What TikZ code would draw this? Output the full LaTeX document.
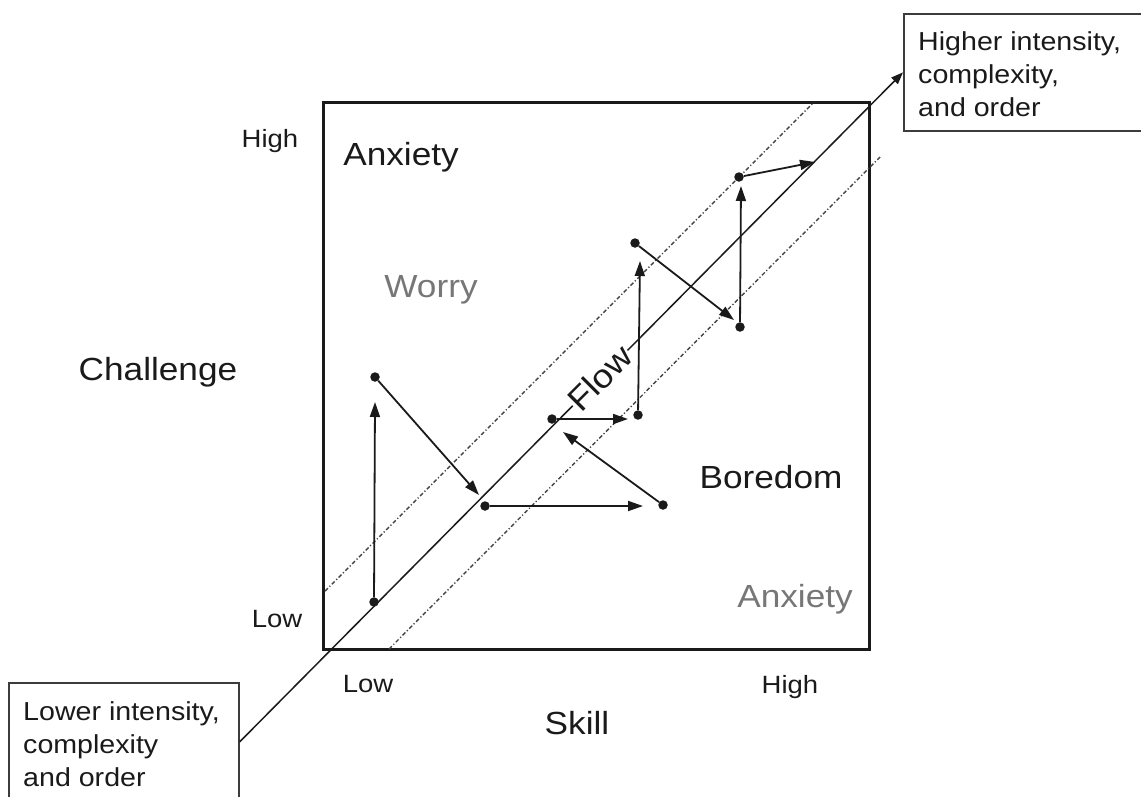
\documentclass[tikz,border=0pt]{standalone}
\usepackage{fontspec}
\setmainfont{Liberation Sans}[FakeStretch=1.1]
\usetikzlibrary{arrows.meta}
\definecolor{ink}{HTML}{1A1A1A}
\definecolor{soft}{HTML}{777777}
\definecolor{dashc}{HTML}{444444}
\begin{document}
\begin{tikzpicture}[x=1pt,y=-1pt,
  bigtxt/.style={font=\fontsize{32}{38}\selectfont, text=ink, inner sep=0pt, anchor=base},
  graytxt/.style={bigtxt, text=soft},
  smalltxt/.style={font=\fontsize{25}{30}\selectfont, text=ink, inner sep=0pt, anchor=base},
  boxtxt/.style={font=\fontsize{26}{33}\selectfont, text=ink, inner sep=0pt, align=left, anchor=north west},
  labelbox/.style={draw=ink!85, line width=1.7pt, rectangle, inner sep=0pt},
  dot/.style={circle, fill=ink, inner sep=0pt, minimum size=9.5pt},
  arr/.style={draw=ink, line width=1.8pt, -{Triangle[length=15pt,width=10pt]}},
  diag/.style={draw=ink, line width=1.5pt, -{Triangle[length=12pt,width=9pt]}},
  flowband/.style={draw=dashc, line width=1.4pt, dash pattern=on 4pt off 2.2pt on 1.2pt off 2.2pt}
]
\useasboundingbox (0,0) rectangle (1141,796);

% label boxes
\node[labelbox, minimum width=247pt, minimum height=117pt, anchor=north west] (upbox) at (903,13) {};
\node[boxtxt] (uptext) at (918,31) {Higher intensity,\\complexity,\\and order};
\node[labelbox, minimum width=230pt, minimum height=118pt, anchor=north west] (lowbox) at (8,682) {};
\node[boxtxt] (lowtext) at (23,701) {Lower intensity,\\complexity\\and order};

% frame
\draw[draw=ink, line width=3pt] (323,102) rectangle (869,649);

% flow band
\coordinate (ua) at (325,591);
\coordinate (ub) at (814,102);
\coordinate (la) at (389,649);
\coordinate (lb) at (880,157);
\draw[flowband] (ua) -- (ub);
\draw[flowband] (la) -- (lb);

% main diagonal
\draw[diag] (lowbox.east) -- (upbox.west);

% Flow label
\node[font=\fontsize{33}{38}\selectfont, text=ink, fill=white, inner sep=0.5pt, rotate=45] (flow) at (600,378) {Flow};

% texts
\node[smalltxt] (highc) at (270,147) {High};
\node[smalltxt] (lowc) at (277,627) {Low};
\node[bigtxt] (chal) at (158,380) {Challenge};
\node[smalltxt] (lows) at (368,692) {Low};
\node[smalltxt] (highs) at (790,693) {High};
\node[bigtxt] (skill) at (577,734) {Skill};
\node[bigtxt] (anx1) at (401,165) {Anxiety};
\node[graytxt] (worry) at (431,297) {Worry};
\node[bigtxt] (bore) at (771,488) {Boredom};
\node[graytxt] (anx2) at (795,607) {Anxiety};

% dots
\node[dot] (A) at (374,602) {};
\node[dot] (B) at (375,377) {};
\node[dot] (C) at (485,506) {};
\node[dot] (D) at (663,505) {};
\node[dot] (E) at (552,419) {};
\node[dot] (F) at (638,415) {};
\node[dot] (G) at (635,243) {};
\node[dot] (H) at (740,327) {};
\node[dot] (I) at (739,177) {};

% arrow tips
\coordinate (t1) at (375,402);
\coordinate (t2) at (479,495);
\coordinate (t3) at (643,506);
\coordinate (t4) at (563,432);
\coordinate (t5) at (628,419);
\coordinate (t6) at (640,261);
\coordinate (t7) at (734,320);
\coordinate (t8) at (741,186);
\coordinate (t9) at (815,162);

\draw[arr] (A) -- (t1);
\draw[arr] (B) -- (t2);
\draw[arr] (C) -- (t3);
\draw[arr] (D) -- (t4);
\draw[arr] (E) -- (t5);
\draw[arr] (F) -- (t6);
\draw[arr] (G) -- (t7);
\draw[arr] (H) -- (t8);
\draw[arr] (I) -- (t9);
\end{tikzpicture}
\end{document}
